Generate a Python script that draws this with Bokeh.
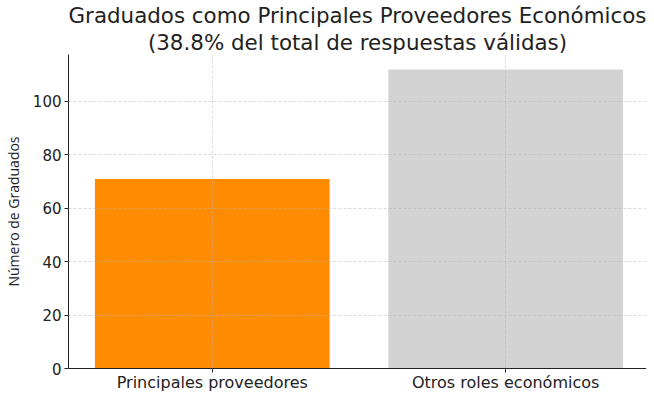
from bokeh.plotting import figure
from bokeh.models import Range1d, FixedTicker, Title
from bokeh.embed import file_html
from bokeh.resources import INLINE

categories = ["Principales proveedores", "Otros roles económicos"]
values = [71, 112]
colors = ["#FF8C00", "#D3D3D3"]
y_ticks = [0, 20, 40, 60, 80, 100]
title_lines = ["Graduados como Principales Proveedores Económicos",
               "(38.8% del total de respuestas válidas)"]

xs = list(range(len(categories)))

p = figure(width=646, height=394, output_backend="svg", toolbar_location=None,
           x_range=Range1d(-0.49, 1.48), y_range=Range1d(0, max(values) * 1.05),
           min_border_left=59, min_border_right=0, min_border_top=6, min_border_bottom=0)

p.vbar(x=xs, top=values, width=0.8, color=colors, line_color=None)

p.title.visible = False
for i, line in enumerate(reversed(title_lines)):
    t = Title(text=line, align="center", text_font="DejaVu Sans", text_font_style="normal",
              text_font_size="21.4px", text_color="#222222", offset=-2,
              standoff=0)
    p.add_layout(t, "above")

p.outline_line_color = None

p.xaxis.ticker = FixedTicker(ticks=xs)
p.xaxis.major_label_overrides = {i: c for i, c in enumerate(categories)}
p.yaxis.ticker = FixedTicker(ticks=y_ticks)
p.yaxis.axis_label = "Número de Graduados"

for ax in (p.xaxis[0], p.yaxis[0]):
    ax.axis_line_color = "#222222"
    ax.major_tick_line_color = "#222222"
    ax.major_tick_out = 4
    ax.major_tick_in = 0
    ax.minor_tick_line_color = None
    ax.major_label_text_font = "DejaVu Sans"
    ax.major_label_text_color = "#222222"
    ax.axis_label_text_font = "Open Sans"
    ax.axis_label_text_font_style = "normal"
    ax.axis_label_text_font_size = "14px"
    ax.axis_label_text_color = "#222222"

p.xaxis.major_label_text_font_size = "16px"
p.yaxis.major_label_text_font_size = "15px"
p.xaxis.major_label_standoff = 0
p.yaxis.major_label_standoff = 3
p.yaxis.axis_label_standoff = 7

for g in (p.xgrid[0], p.ygrid[0]):
    g.grid_line_color = "#b0b0b0"
    g.grid_line_alpha = 0.6
    g.grid_line_dash = "3 2"
    g.grid_line_width = 0.8
    g.level = "overlay"

p.ygrid.ticker = FixedTicker(ticks=y_ticks)
p.xgrid.ticker = FixedTicker(ticks=xs)

open("out.html", "w").write(file_html(p, INLINE))
